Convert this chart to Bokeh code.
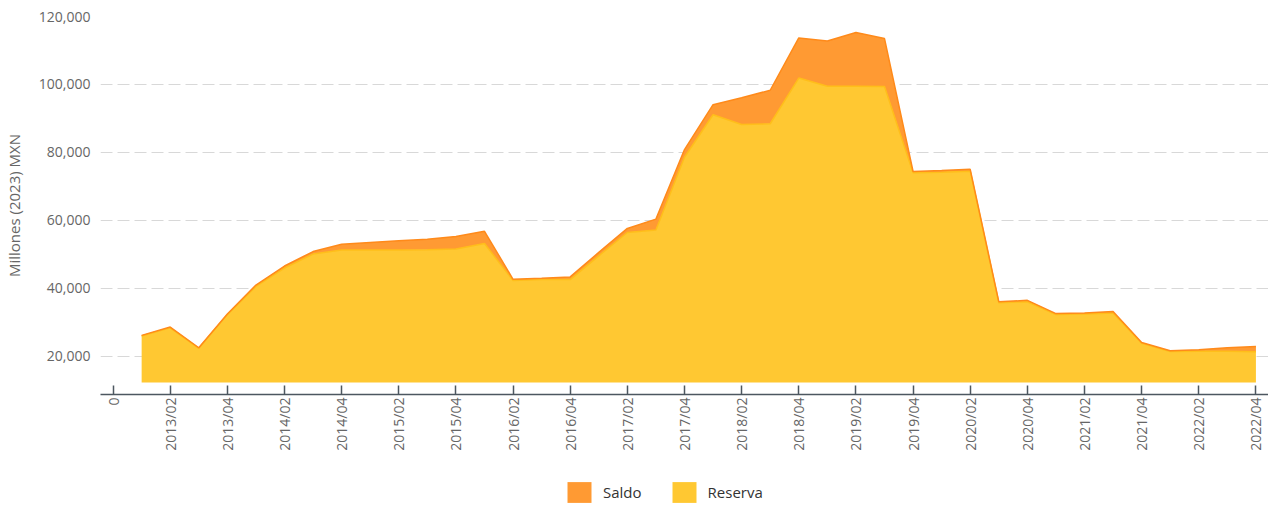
import numpy as np
from bokeh.plotting import figure
from bokeh.layouts import column
from bokeh.models import (FixedTicker, NumeralTickFormatter, Legend, LegendItem,
                          Range1d)
from bokeh.embed import file_html
from bokeh.resources import INLINE

# ---------------- data ----------------
quarters = [
    "2013/01", "2013/02", "2013/03", "2013/04",
    "2014/01", "2014/02", "2014/03", "2014/04",
    "2015/01", "2015/02", "2015/03", "2015/04",
    "2016/01", "2016/02", "2016/03", "2016/04",
    "2017/01", "2017/02", "2017/03", "2017/04",
    "2018/01", "2018/02", "2018/03", "2018/04",
    "2019/01", "2019/02", "2019/03", "2019/04",
    "2020/01", "2020/02", "2020/03", "2020/04",
    "2021/01", "2021/02", "2021/03", "2021/04",
    "2022/01", "2022/02", "2022/03", "2022/04",
]

reserva = [
    26000, 28400, 22400, 32300,
    40600, 46000, 50100, 51300,
    51300, 51300, 51400, 51600,
    53200, 42300, 42600, 42600,
    49600, 56450, 57200, 78600,
    91100, 88250, 88450, 101900,
    99500, 99500, 99400, 74000,
    74200, 74500, 35800, 36100,
    32300, 32500, 32750, 23900,
    21450, 21500, 21550, 21350,
]

saldo = [
    200, 250, 150, 200,
    400, 600, 750, 1700,
    2200, 2700, 3100, 3700,
    3600, 400, 400, 800,
    1000, 1200, 3200, 2250,
    2950, 7850, 9850, 11800,
    13300, 15800, 14100, 400,
    500, 550, 300, 400,
    300, 300, 450, 200,
    200, 450, 1000, 1600,
]

tick_positions = [0, 2, 4, 6, 8, 10, 12, 14, 16, 18, 20,
                  22, 24, 26, 28, 30, 32, 34, 36, 38, 40]
tick_labels = ["0", "2013/02", "2013/04", "2014/02", "2014/04", "2015/02",
               "2015/04", "2016/02", "2016/04", "2017/02", "2017/04",
               "2018/02", "2018/04", "2019/02", "2019/04", "2020/02",
               "2020/04", "2021/02", "2021/04", "2022/02", "2022/04"]

y_ticks = [20000, 40000, 60000, 80000, 100000, 120000]
area_floor = 12350      # threshold of the areas
y_min, y_max = 8800, 120000

series_names = ["Saldo", "Reserva"]
res_fill = "#FFC832"
res_line = "#FFBE1A"
sal_fill = "#FF9A33"
sal_line = "#FF8A1A"

# ---------------- main figure ----------------
x = np.arange(1, len(quarters) + 1)
top_res = np.array(reserva, dtype=float)
top_sal = top_res + np.array(saldo, dtype=float)

W = 1268
p = figure(width=W, height=470,
           x_range=Range1d(-0.44, len(quarters) + 0.44),
           y_range=Range1d(y_min, y_max),
           output_backend="svg", toolbar_location=None,
           min_border_left=100, min_border_right=0,
           min_border_top=16, min_border_bottom=76)

p.outline_line_color = None
p.background_fill_color = "white"
p.border_fill_color = "white"

p.varea(x=x, y1=area_floor, y2=top_res, fill_color=res_fill)
p.varea(x=x, y1=top_res, y2=top_sal, fill_color=sal_fill)
p.line(x=x, y=top_res, line_color=res_line, line_width=1.5)
p.line(x=x, y=top_sal, line_color=sal_line, line_width=1.5)

# x axis
xa = p.xaxis[0]
xa.ticker = FixedTicker(ticks=tick_positions)
xa.major_label_overrides = {t: l for t, l in zip(tick_positions, tick_labels)}
xa.major_label_orientation = np.pi / 2
xa.axis_line_color = "#4d5760"
xa.axis_line_width = 1.5
xa.major_tick_line_color = "#4d5760"
xa.major_tick_line_width = 1.5
xa.major_tick_in = 9
xa.major_tick_out = 0
xa.minor_tick_line_color = None
xa.minor_tick_in = 0
xa.minor_tick_out = 0
xa.major_label_text_font = "Open Sans"
xa.major_label_text_font_size = "14px"
xa.major_label_text_color = "#666666"
xa.major_label_standoff = 3

# y axis
ya = p.yaxis[0]
ya.ticker = FixedTicker(ticks=y_ticks)
ya.formatter = NumeralTickFormatter(format="0,0")
ya.axis_line_color = None
ya.major_tick_line_color = None
ya.minor_tick_line_color = None
ya.major_tick_in = 0
ya.major_tick_out = 0
ya.minor_tick_in = 0
ya.minor_tick_out = 0
ya.major_label_text_font = "Open Sans"
ya.major_label_text_font_size = "14px"
ya.major_label_text_color = "#666666"
ya.major_label_standoff = 10
ya.axis_label = "Millones (2023) MXN"
ya.axis_label_text_font = "Open Sans"
ya.axis_label_text_font_style = "normal"
ya.axis_label_text_font_size = "15px"
ya.axis_label_text_color = "#666666"
ya.axis_label_standoff = 12

p.xgrid.visible = False
p.ygrid.grid_line_color = "#d8d8d8"
p.ygrid.grid_line_dash = "12 5"
p.ygrid.grid_line_width = 1

# ---------------- legend strip ----------------
pl = figure(width=W, height=35, x_range=Range1d(0, 1), y_range=Range1d(0, 1),
            output_backend="svg", toolbar_location=None, min_border=0,
            x_axis_location=None, y_axis_location=None)
pl.grid.visible = False
pl.outline_line_color = None
pl.background_fill_color = "white"
pl.border_fill_color = "white"
# key renderers: same series, lying outside this strip's ranges
k_sal = pl.varea(x=x, y1=top_res, y2=top_sal, fill_color=sal_fill)
k_res = pl.varea(x=x, y1=area_floor, y2=top_res, fill_color=res_fill)

legend = Legend(items=[LegendItem(label=series_names[0], renderers=[k_sal]),
                       LegendItem(label=series_names[1], renderers=[k_res])],
                orientation="horizontal", location=(464, 0),
                border_line_color=None, background_fill_alpha=0,
                glyph_width=30, glyph_height=26,
                label_text_font="Open Sans", label_text_font_size="15px",
                label_text_color="#333333",
                label_standoff=9, spacing=27, padding=0, margin=0)
pl.add_layout(legend, "center")

open("out.html", "w").write(file_html(column(p, pl, spacing=0), INLINE))
